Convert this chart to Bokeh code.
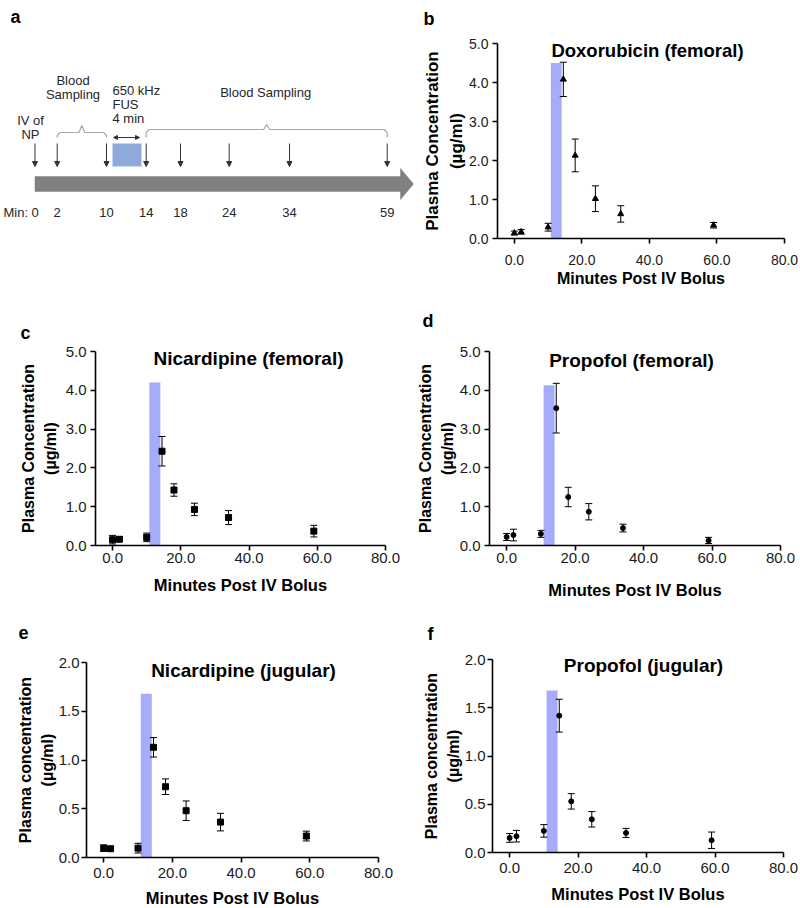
from bokeh.plotting import figure
from bokeh.layouts import column, row
from bokeh.models import (ColumnDataSource, Range1d, FixedTicker, PrintfTickFormatter,
                          Whisker, TeeHead, Label, Arrow, NormalHead)
from bokeh.embed import file_html
from bokeh.resources import INLINE
from bokeh.core.properties import value

# ---------------- data ----------------
timeline_minutes = [0, 2, 10, 14, 18, 24, 34, 59]
timeline_labels = ["0", "2", "10", "14", "18", "24", "34", "59"]

sample_minutes = [0, 2, 10, 14.5, 18, 24, 34, 59]
dox_minutes = [0, 2, 10, 14.5, 18, 24, 31.5, 59]

dox_fem_mean = [0.14, 0.17, 0.29, 4.08, 2.13, 1.02, 0.63, 0.34]
dox_fem_err = [0.05, 0.06, 0.10, 0.44, 0.42, 0.33, 0.21, 0.07]

nic_fem_mean = [0.15, 0.16, 0.21, 2.43, 1.43, 0.93, 0.72, 0.37]
nic_fem_err = [0.11, 0.06, 0.11, 0.38, 0.16, 0.16, 0.18, 0.15]

pro_fem_mean = [0.22, 0.27, 0.30, 3.54, 1.25, 0.87, 0.45, 0.13]
pro_fem_err = [0.09, 0.15, 0.09, 0.64, 0.25, 0.21, 0.10, 0.08]

nic_jug_mean = [0.096, 0.090, 0.096, 1.13, 0.726, 0.48, 0.363, 0.22]
nic_jug_err = [0.033, 0.020, 0.050, 0.10, 0.080, 0.10, 0.090, 0.05]

pro_jug_mean = [0.151, 0.169, 0.224, 1.418, 0.53, 0.344, 0.203, 0.127]
pro_jug_err = [0.045, 0.060, 0.065, 0.170, 0.08, 0.080, 0.047, 0.085]

fus_window = [10.8, 14.0]
fus_bar_top = {"b": 4.5, "c": 4.2, "d": 4.13, "e": 1.68, "f": 1.68}

x_ticks = [0, 20, 40, 60, 80]
y_ticks_fem = [0, 1, 2, 3, 4, 5]
y_ticks_jug = [0, 0.5, 1.0, 1.5, 2.0]

FONT = "Liberation Sans"
INK = "#1a1a1a"
TXT = "#262626"

# ---------------- panel a : timeline schematic (page pixel coordinates) ----------------
A_W, A_H = 414, 300
# schematic x position of each timeline minute
TL_POS = [34.5, 56.7, 106, 145.7, 180, 228.7, 289, 386.7]

pa = figure(width=A_W, height=A_H, x_range=Range1d(0, A_W), y_range=Range1d(A_H, 0),
            x_axis_type=None, y_axis_type=None, output_backend="svg",
            toolbar_location=None, tools="", title=None, min_border=0)
pa.outline_line_color = None

# big gray time arrow
body_y0, body_y1, head_y0, head_y1 = 176, 191, 168, 199
body_x1, tip_x = 400, 413
pa.patch([TL_POS[0], body_x1, body_x1, tip_x, body_x1, body_x1, TL_POS[0]],
         [body_y0, body_y0, head_y0, (head_y0 + head_y1) / 2, head_y1, body_y1, body_y1],
         fill_color="#808080", line_color="#808080", line_width=0.5)

# FUS box
pa.quad(left=[112], right=[141], top=[143], bottom=[166],
        fill_color="#8eaadb", line_color="#c9d6ef", line_width=1)

# down arrows at sampling times
arr_src = ColumnDataSource(dict(x=TL_POS, y0=[143] * len(TL_POS), y1=[166] * len(TL_POS)))
pa.add_layout(Arrow(x_start="x", y_start="y0", x_end="x", y_end="y1", source=arr_src,
                    line_color="#333333", line_width=1,
                    end=NormalHead(size=5, fill_color="#333333", line_color="#333333")))
# double headed arrow above FUS box
pa.add_layout(Arrow(x_start=113, y_start=137, x_end=139, y_end=137,
                    line_color="#333333", line_width=1,
                    start=NormalHead(size=4, fill_color="#333333", line_color="#333333"),
                    end=NormalHead(size=4, fill_color="#333333", line_color="#333333")))


def bracket(x0, x1, y_end, y_line, y_peak, r=3.0):
    xm = (x0 + x1) / 2
    xs = [x0, x0, x0 + r, xm - r, xm, xm + r, x1 - r, x1, x1]
    ys = [y_end, y_line + r, y_line, y_line, y_peak, y_line, y_line, y_line + r, y_end]
    return xs, ys


b1 = bracket(TL_POS[1], TL_POS[2], 137, 132, 125)
b2 = bracket(TL_POS[3], TL_POS[7], 137, 129, 124)
pa.multi_line([b1[0], b2[0]], [b1[1], b2[1]], line_color="#a8a8a8", line_width=1.2)

# minute labels
pa.text(x=TL_POS, y=[212] * len(TL_POS), text=timeline_labels,
        text_font=value(FONT), text_font_size="13px", text_color=TXT,
        text_align="center", text_baseline="middle")


def a_text(x, y, t, align="center", size="13px"):
    pa.add_layout(Label(x=x, y=y, text=t, text_font=FONT, text_font_size=size,
                        text_color=TXT, text_align=align, text_baseline="middle"))


a_text(3, 212, "Min:", align="left")
a_text(30, 120, "IV of")
a_text(30, 134, "NP")
a_text(72.5, 80, "Blood")
a_text(72.5, 94, "Sampling")
a_text(112, 90, "650 kHz", align="left")
a_text(112, 104, "FUS", align="left")
a_text(112, 118, "4 min", align="left")
a_text(267, 92, "Blood  Sampling")
pa.add_layout(Label(x=10, y=16, text="a", text_font=FONT, text_font_size="18px",
                    text_font_style="bold", text_color="black",
                    text_align="left", text_baseline="alphabetic"))

# ---------------- data panels ----------------
panels = [
    dict(key="b", title="Doxorubicin (femoral)", x=dox_minutes, mean=dox_fem_mean, err=dox_fem_err,
         marker="triangle", ymax=5.0, yticks=y_ticks_fem, ylabel="Plasma Concentration\n(µg/ml)"),
    dict(key="c", title="Nicardipine (femoral)", x=sample_minutes, mean=nic_fem_mean, err=nic_fem_err,
         marker="square", ymax=5.0, yticks=y_ticks_fem, ylabel="Plasma Concentration\n(µg/ml)"),
    dict(key="d", title="Propofol (femoral)", x=sample_minutes, mean=pro_fem_mean, err=pro_fem_err,
         marker="circle", ymax=5.0, yticks=y_ticks_fem, ylabel="Plasma Concentration\n(µg/ml)"),
    dict(key="e", title="Nicardipine (jugular)", x=sample_minutes, mean=nic_jug_mean, err=nic_jug_err,
         marker="square", ymax=2.0, yticks=y_ticks_jug, ylabel="Plasma concentration\n(µg/ml)"),
    dict(key="f", title="Propofol (jugular)", x=sample_minutes, mean=pro_jug_mean, err=pro_jug_err,
         marker="circle", ymax=2.0, yticks=y_ticks_jug, ylabel="Plasma concentration\n(µg/ml)"),
]

# layout (page pixel coordinates): figure box, axes box (x=-5..80, y=0..ymax), text anchors
LAYOUT = {
    "b": dict(fig=(414, 0, 384, 300), frame=(497, 784, 43, 238), title=(647, 50), letter=(423, 18),
              tick_fs="14px", lab_fs="16px", ylab_fs="17px", title_fs="18.5px",
              x_std=11, xl_std=2, y_std=4, yl_std=0, msize=6),
    "c": dict(fig=(0, 300, 400, 300), frame=(95, 385, 351, 545), title=(248, 358), letter=(20, 332),
              tick_fs="15px", lab_fs="16.5px", ylab_fs="16px", title_fs="19px",
              x_std=2, xl_std=10, y_std=4, yl_std=4, msize=6),
    "d": dict(fig=(400, 300, 398, 300), frame=(489, 780, 351, 545), title=(631, 360), letter=(422, 320),
              tick_fs="15px", lab_fs="16.5px", ylab_fs="16px", title_fs="19px",
              x_std=2, xl_std=15, y_std=4, yl_std=1, msize=5),
    "e": dict(fig=(0, 600, 400, 306), frame=(86, 378, 662, 857), title=(243, 670), letter=(18, 632),
              tick_fs="15px", lab_fs="16.5px", ylab_fs="16px", title_fs="19px",
              x_std=5, xl_std=8, y_std=2, yl_std=0, msize=6),
    "f": dict(fig=(400, 600, 398, 306), frame=(492, 783, 659, 852), title=(643, 665), letter=(427, 633),
              tick_fs="15px", lab_fs="16.5px", ylab_fs="16px", title_fs="19px",
              x_std=5, xl_std=9, y_std=2, yl_std=0, msize=5),
}

X_MIN, X_MAX = -5, 80


def make_panel(d):
    lay = LAYOUT[d["key"]]
    fx, fy, fw, fh = lay["fig"]
    L, R, T, B = lay["frame"]
    ymax = d["ymax"]
    kx = (R - L) / (X_MAX - X_MIN)
    ky = (B - T) / ymax
    xr = Range1d(X_MIN - (L - fx) / kx, X_MAX + (fx + fw - R) / kx)
    yr = Range1d(-(fy + fh - B) / ky, ymax + (T - fy) / ky)
    p = figure(width=fw, height=fh, x_range=xr, y_range=yr,
               output_backend="svg", toolbar_location=None, tools="", title=None, min_border=0)
    p.outline_line_color = None
    p.grid.visible = False
    p.xaxis.fixed_location = 0
    p.yaxis.fixed_location = X_MIN
    p.xaxis.bounds = (X_MIN, X_MAX)
    p.yaxis.bounds = (0, ymax)
    p.xaxis.ticker = FixedTicker(ticks=x_ticks)
    p.yaxis.ticker = FixedTicker(ticks=d["yticks"])
    p.xaxis.formatter = PrintfTickFormatter(format="%.1f")
    p.yaxis.formatter = PrintfTickFormatter(format="%.1f")
    for ax in (p.xaxis, p.yaxis):
        ax.axis_line_color = "black"
        ax.axis_line_width = 1.6
        ax.major_tick_line_color = "black"
        ax.major_tick_line_width = 1.6
        ax.major_tick_in = 0
        ax.major_tick_out = 5
        ax.minor_tick_line_color = None
        ax.major_label_text_font = FONT
        ax.major_label_text_font_size = lay["tick_fs"]
        ax.major_label_text_color = INK
        ax.axis_label_text_font = FONT
        ax.axis_label_text_font_style = "bold"
        ax.axis_label_text_color = "black"
        ax.axis_label_text_line_height = 1.25
    p.xaxis.major_label_standoff = lay["x_std"]
    p.yaxis.major_label_standoff = lay["y_std"]
    p.xaxis.axis_label = "Minutes Post IV Bolus"
    p.xaxis.axis_label_text_font_size = lay["lab_fs"]
    p.xaxis.axis_label_standoff = lay["xl_std"]
    p.yaxis.axis_label = d["ylabel"]
    p.yaxis.axis_label_text_font_size = lay["ylab_fs"]
    p.yaxis.axis_label_standoff = lay["yl_std"]

    # FUS bar
    p.quad(left=[fus_window[0]], right=[fus_window[1]], bottom=[0], top=[fus_bar_top[d["key"]]],
           fill_color="#a6abfa", line_color=None)

    src = ColumnDataSource(dict(x=d["x"], y=d["mean"],
                                upper=[m + e for m, e in zip(d["mean"], d["err"])],
                                lower=[m - e for m, e in zip(d["mean"], d["err"])]))
    p.add_layout(Whisker(source=src, base="x", upper="upper", lower="lower",
                         line_color="black", line_width=1, level="glyph",
                         upper_head=TeeHead(size=7, line_color="black", line_width=1),
                         lower_head=TeeHead(size=7, line_color="black", line_width=1)))
    p.scatter("x", "y", source=src, marker=d["marker"], size=lay["msize"],
              fill_color="black", line_color="black")

    def to_data(px, py):
        return X_MIN + (px - L) / kx, ymax - (py - T) / ky

    tx, ty = to_data(*lay["title"])
    p.add_layout(Label(x=tx, y=ty, text=d["title"], text_font=FONT, text_font_size=lay["title_fs"],
                       text_font_style="bold", text_color="black",
                       text_align="center", text_baseline="middle"))
    lx, ly = to_data(*lay["letter"])
    p.add_layout(Label(x=lx, y=ly, text=d["key"], text_font=FONT, text_font_size="18px",
                       text_font_style="bold", text_color="black",
                       text_align="left", text_baseline="alphabetic"))
    return p


figs = {d["key"]: make_panel(d) for d in panels}

layout = column(row(pa, figs["b"]), row(figs["c"], figs["d"]), row(figs["e"], figs["f"]))

with open("out.html", "w") as fh:
    fh.write(file_html(layout, INLINE))
